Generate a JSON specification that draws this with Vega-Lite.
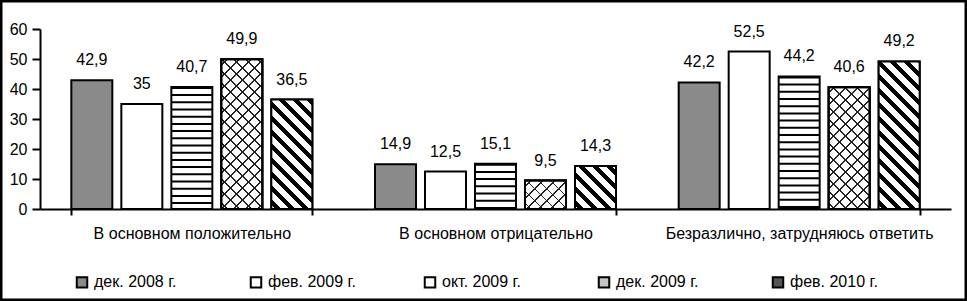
{
  "$schema": "https://vega.github.io/schema/vega-lite/v6.json",
  "width": 967,
  "height": 301,
  "autosize": {"type": "none"},
  "padding": 0,
  "background": "white",
  "config": {
    "view": {"stroke": "black", "strokeWidth": 5},
    "font": "Liberation Sans",
    "locale": {"number": {"decimal": ",", "thousands": " ", "grouping": [3], "currency": ["", ""]}},
    "axis": {"labelFont": "Liberation Sans", "labelColor": "black", "domainColor": "black", "tickColor": "black", "grid": false}
  },
  "data": {
    "values": [
      {"cat": "В основном положительно", "series": "дек. 2008 г.", "value": 42.9},
      {"cat": "В основном положительно", "series": "фев. 2009 г.", "value": 35},
      {"cat": "В основном положительно", "series": "окт. 2009 г.", "value": 40.7},
      {"cat": "В основном положительно", "series": "дек. 2009 г.", "value": 49.9},
      {"cat": "В основном положительно", "series": "фев. 2010 г.", "value": 36.5},
      {"cat": "В основном отрицательно", "series": "дек. 2008 г.", "value": 14.9},
      {"cat": "В основном отрицательно", "series": "фев. 2009 г.", "value": 12.5},
      {"cat": "В основном отрицательно", "series": "окт. 2009 г.", "value": 15.1},
      {"cat": "В основном отрицательно", "series": "дек. 2009 г.", "value": 9.5},
      {"cat": "В основном отрицательно", "series": "фев. 2010 г.", "value": 14.3},
      {"cat": "Безразлично, затрудняюсь ответить", "series": "дек. 2008 г.", "value": 42.2},
      {"cat": "Безразлично, затрудняюсь ответить", "series": "фев. 2009 г.", "value": 52.5},
      {"cat": "Безразлично, затрудняюсь ответить", "series": "окт. 2009 г.", "value": 44.2},
      {"cat": "Безразлично, затрудняюсь ответить", "series": "дек. 2009 г.", "value": 40.6},
      {"cat": "Безразлично, затрудняюсь ответить", "series": "фев. 2010 г.", "value": 49.2}
    ]
  },
  "encoding": {
    "x": {
      "field": "cat", "type": "nominal",
      "sort": ["В основном положительно", "В основном отрицательно", "Безразлично, затрудняюсь ответить"],
      "scale": {"range": [40, 951], "paddingInner": 0.2064, "paddingOuter": 0.1032},
      "axis": {"title": null, "offset": -92, "labelAngle": 0, "labelFontSize": 16, "labelPadding": 10, "tickBand": "extent", "tickSize": 6, "tickWidth": 2, "domainWidth": 2, "labelLimit": 300}
    },
    "xOffset": {
      "field": "series", "type": "nominal",
      "sort": ["дек. 2008 г.", "фев. 2009 г.", "окт. 2009 г.", "дек. 2009 г.", "фев. 2010 г."],
      "scale": {"domain": ["дек. 2008 г.", "фев. 2009 г.", "окт. 2009 г.", "дек. 2009 г.", "фев. 2010 г."], "paddingInner": 0.18, "paddingOuter": 0}
    },
    "y": {
      "field": "value", "type": "quantitative",
      "scale": {"domain": [0, 60], "range": [209, 29], "nice": false},
      "axis": {"title": null, "offset": -40, "values": [0, 10, 20, 30, 40, 50, 60], "labelFontSize": 16, "labelPadding": 5, "tickSize": 8, "tickWidth": 2, "domainWidth": 2}
    }
  },
  "layer": [
    {
      "mark": {"type": "bar", "stroke": "black", "strokeWidth": 2},
      "encoding": {
        "fill": {
          "field": "series", "type": "nominal",
          "sort": ["дек. 2008 г.", "фев. 2009 г.", "окт. 2009 г.", "дек. 2009 г.", "фев. 2010 г."],
          "scale": {"domain": ["дек. 2008 г.", "фев. 2009 г.", "окт. 2009 г.", "дек. 2009 г.", "фев. 2010 г."], "range": ["#8a8a8a", "#ffffff", "#ffffff", "#c4c4c4", "#555555"]},
          "legend": {"title": null, "orient": "none", "legendX": 74, "legendY": 274, "direction": "horizontal", "columns": 5, "symbolType": "square", "symbolSize": 110, "symbolStrokeColor": "black", "symbolStrokeWidth": 2, "labelFontSize": 16, "labelFont": "Liberation Sans", "labelColor": "black", "labelOffset": 4, "columnPadding": 64, "gridAlign": "all", "labelLimit": 200, "padding": 0}
        }
      }
    },
    {
      "transform": [{"filter": "datum.series === 'фев. 2010 г.'"}],
      "mark": {"type": "bar", "stroke": "black", "strokeWidth": 2},
      "encoding": {
        "fill": {
          "condition": [
            {"test": "datum.cat === 'В основном положительно'", "value": {"gradient": "linear", "x1": 0, "y1": 1, "x2": 0.4618, "y2": -0.2335, "stops": [
              {"offset": 0, "color": "#fff"},
              {"offset": 0.02597, "color": "#fff"}, {"offset": 0.02597, "color": "#000"}, {"offset": 0.06494, "color": "#000"}, {"offset": 0.06494, "color": "#fff"},
              {"offset": 0.11688, "color": "#fff"}, {"offset": 0.11688, "color": "#000"}, {"offset": 0.15584, "color": "#000"}, {"offset": 0.15584, "color": "#fff"},
              {"offset": 0.20779, "color": "#fff"}, {"offset": 0.20779, "color": "#000"}, {"offset": 0.24675, "color": "#000"}, {"offset": 0.24675, "color": "#fff"},
              {"offset": 0.29870, "color": "#fff"}, {"offset": 0.29870, "color": "#000"}, {"offset": 0.33766, "color": "#000"}, {"offset": 0.33766, "color": "#fff"},
              {"offset": 0.38961, "color": "#fff"}, {"offset": 0.38961, "color": "#000"}, {"offset": 0.42857, "color": "#000"}, {"offset": 0.42857, "color": "#fff"},
              {"offset": 0.48052, "color": "#fff"}, {"offset": 0.48052, "color": "#000"}, {"offset": 0.51948, "color": "#000"}, {"offset": 0.51948, "color": "#fff"},
              {"offset": 0.57143, "color": "#fff"}, {"offset": 0.57143, "color": "#000"}, {"offset": 0.61039, "color": "#000"}, {"offset": 0.61039, "color": "#fff"},
              {"offset": 0.66234, "color": "#fff"}, {"offset": 0.66234, "color": "#000"}, {"offset": 0.70130, "color": "#000"}, {"offset": 0.70130, "color": "#fff"},
              {"offset": 0.75325, "color": "#fff"}, {"offset": 0.75325, "color": "#000"}, {"offset": 0.79221, "color": "#000"}, {"offset": 0.79221, "color": "#fff"},
              {"offset": 0.84416, "color": "#fff"}, {"offset": 0.84416, "color": "#000"}, {"offset": 0.88312, "color": "#000"}, {"offset": 0.88312, "color": "#fff"},
              {"offset": 0.93506, "color": "#fff"}, {"offset": 0.93506, "color": "#000"}, {"offset": 0.97403, "color": "#000"}, {"offset": 0.97403, "color": "#fff"},
              {"offset": 1, "color": "#fff"}]}},
            {"test": "datum.cat === 'В основном отрицательно'", "value": {"gradient": "linear", "x1": 0, "y1": 1, "x2": 0.9780, "y2": -0.0233, "stops": [
              {"offset": 0, "color": "#fff"},
              {"offset": 0.04762, "color": "#fff"}, {"offset": 0.04762, "color": "#000"}, {"offset": 0.11905, "color": "#000"}, {"offset": 0.11905, "color": "#fff"},
              {"offset": 0.21429, "color": "#fff"}, {"offset": 0.21429, "color": "#000"}, {"offset": 0.28571, "color": "#000"}, {"offset": 0.28571, "color": "#fff"},
              {"offset": 0.38095, "color": "#fff"}, {"offset": 0.38095, "color": "#000"}, {"offset": 0.45238, "color": "#000"}, {"offset": 0.45238, "color": "#fff"},
              {"offset": 0.54762, "color": "#fff"}, {"offset": 0.54762, "color": "#000"}, {"offset": 0.61905, "color": "#000"}, {"offset": 0.61905, "color": "#fff"},
              {"offset": 0.71429, "color": "#fff"}, {"offset": 0.71429, "color": "#000"}, {"offset": 0.78571, "color": "#000"}, {"offset": 0.78571, "color": "#fff"},
              {"offset": 0.88095, "color": "#fff"}, {"offset": 0.88095, "color": "#000"}, {"offset": 0.95238, "color": "#000"}, {"offset": 0.95238, "color": "#fff"},
              {"offset": 1, "color": "#fff"}]}},
            {"test": "datum.cat === 'Безразлично, затрудняюсь ответить'", "value": {"gradient": "linear", "x1": 0, "y1": 1, "x2": 0.3424, "y2": -0.2328, "stops": [
              {"offset": 0, "color": "#fff"},
              {"offset": 0.02041, "color": "#fff"}, {"offset": 0.02041, "color": "#000"}, {"offset": 0.05102, "color": "#000"}, {"offset": 0.05102, "color": "#fff"},
              {"offset": 0.09184, "color": "#fff"}, {"offset": 0.09184, "color": "#000"}, {"offset": 0.12245, "color": "#000"}, {"offset": 0.12245, "color": "#fff"},
              {"offset": 0.16327, "color": "#fff"}, {"offset": 0.16327, "color": "#000"}, {"offset": 0.19388, "color": "#000"}, {"offset": 0.19388, "color": "#fff"},
              {"offset": 0.23469, "color": "#fff"}, {"offset": 0.23469, "color": "#000"}, {"offset": 0.26531, "color": "#000"}, {"offset": 0.26531, "color": "#fff"},
              {"offset": 0.30612, "color": "#fff"}, {"offset": 0.30612, "color": "#000"}, {"offset": 0.33673, "color": "#000"}, {"offset": 0.33673, "color": "#fff"},
              {"offset": 0.37755, "color": "#fff"}, {"offset": 0.37755, "color": "#000"}, {"offset": 0.40816, "color": "#000"}, {"offset": 0.40816, "color": "#fff"},
              {"offset": 0.44898, "color": "#fff"}, {"offset": 0.44898, "color": "#000"}, {"offset": 0.47959, "color": "#000"}, {"offset": 0.47959, "color": "#fff"},
              {"offset": 0.52041, "color": "#fff"}, {"offset": 0.52041, "color": "#000"}, {"offset": 0.55102, "color": "#000"}, {"offset": 0.55102, "color": "#fff"},
              {"offset": 0.59184, "color": "#fff"}, {"offset": 0.59184, "color": "#000"}, {"offset": 0.62245, "color": "#000"}, {"offset": 0.62245, "color": "#fff"},
              {"offset": 0.66327, "color": "#fff"}, {"offset": 0.66327, "color": "#000"}, {"offset": 0.69388, "color": "#000"}, {"offset": 0.69388, "color": "#fff"},
              {"offset": 0.73469, "color": "#fff"}, {"offset": 0.73469, "color": "#000"}, {"offset": 0.76531, "color": "#000"}, {"offset": 0.76531, "color": "#fff"},
              {"offset": 0.80612, "color": "#fff"}, {"offset": 0.80612, "color": "#000"}, {"offset": 0.83673, "color": "#000"}, {"offset": 0.83673, "color": "#fff"},
              {"offset": 0.87755, "color": "#fff"}, {"offset": 0.87755, "color": "#000"}, {"offset": 0.90816, "color": "#000"}, {"offset": 0.90816, "color": "#fff"},
              {"offset": 0.94898, "color": "#fff"}, {"offset": 0.94898, "color": "#000"}, {"offset": 0.97959, "color": "#000"}, {"offset": 0.97959, "color": "#fff"},
              {"offset": 1, "color": "#fff"}]}}
          ],
          "value": "white"
        }
      }
    },
    {
      "transform": [{"filter": "datum.series === 'дек. 2009 г.'"}],
      "mark": {"type": "bar", "stroke": "black", "strokeWidth": 2},
      "encoding": {
        "fill": {
          "condition": [
            {"test": "datum.cat === 'В основном положительно'", "value": {"gradient": "linear", "x1": 0, "y1": 1, "x2": 0.3268, "y2": -0.1931, "stops": [
              {"offset": 0, "color": "#fff"},
              {"offset": 0.02656, "color": "#fff"}, {"offset": 0.02656, "color": "#222"}, {"offset": 0.03594, "color": "#222"}, {"offset": 0.03594, "color": "#fff"},
              {"offset": 0.08906, "color": "#fff"}, {"offset": 0.08906, "color": "#222"}, {"offset": 0.09844, "color": "#222"}, {"offset": 0.09844, "color": "#fff"},
              {"offset": 0.15156, "color": "#fff"}, {"offset": 0.15156, "color": "#222"}, {"offset": 0.16094, "color": "#222"}, {"offset": 0.16094, "color": "#fff"},
              {"offset": 0.21406, "color": "#fff"}, {"offset": 0.21406, "color": "#222"}, {"offset": 0.22344, "color": "#222"}, {"offset": 0.22344, "color": "#fff"},
              {"offset": 0.27656, "color": "#fff"}, {"offset": 0.27656, "color": "#222"}, {"offset": 0.28594, "color": "#222"}, {"offset": 0.28594, "color": "#fff"},
              {"offset": 0.33906, "color": "#fff"}, {"offset": 0.33906, "color": "#222"}, {"offset": 0.34844, "color": "#222"}, {"offset": 0.34844, "color": "#fff"},
              {"offset": 0.40156, "color": "#fff"}, {"offset": 0.40156, "color": "#222"}, {"offset": 0.41094, "color": "#222"}, {"offset": 0.41094, "color": "#fff"},
              {"offset": 0.46406, "color": "#fff"}, {"offset": 0.46406, "color": "#222"}, {"offset": 0.47344, "color": "#222"}, {"offset": 0.47344, "color": "#fff"},
              {"offset": 0.52656, "color": "#fff"}, {"offset": 0.52656, "color": "#222"}, {"offset": 0.53594, "color": "#222"}, {"offset": 0.53594, "color": "#fff"},
              {"offset": 0.58906, "color": "#fff"}, {"offset": 0.58906, "color": "#222"}, {"offset": 0.59844, "color": "#222"}, {"offset": 0.59844, "color": "#fff"},
              {"offset": 0.65156, "color": "#fff"}, {"offset": 0.65156, "color": "#222"}, {"offset": 0.66094, "color": "#222"}, {"offset": 0.66094, "color": "#fff"},
              {"offset": 0.71406, "color": "#fff"}, {"offset": 0.71406, "color": "#222"}, {"offset": 0.72344, "color": "#222"}, {"offset": 0.72344, "color": "#fff"},
              {"offset": 0.77656, "color": "#fff"}, {"offset": 0.77656, "color": "#222"}, {"offset": 0.78594, "color": "#222"}, {"offset": 0.78594, "color": "#fff"},
              {"offset": 0.83906, "color": "#fff"}, {"offset": 0.83906, "color": "#222"}, {"offset": 0.84844, "color": "#222"}, {"offset": 0.84844, "color": "#fff"},
              {"offset": 0.90156, "color": "#fff"}, {"offset": 0.90156, "color": "#222"}, {"offset": 0.91094, "color": "#222"}, {"offset": 0.91094, "color": "#fff"},
              {"offset": 0.96406, "color": "#fff"}, {"offset": 0.96406, "color": "#222"}, {"offset": 0.97344, "color": "#222"}, {"offset": 0.97344, "color": "#fff"},
              {"offset": 1, "color": "#fff"}]}},
            {"test": "datum.cat === 'В основном отрицательно'", "value": {"gradient": "linear", "x1": 0, "y1": 1, "x2": 1.1840, "y2": 0.1770, "stops": [
              {"offset": 0, "color": "#fff"},
              {"offset": 0.07083, "color": "#fff"}, {"offset": 0.07083, "color": "#222"}, {"offset": 0.09583, "color": "#222"}, {"offset": 0.09583, "color": "#fff"},
              {"offset": 0.23750, "color": "#fff"}, {"offset": 0.23750, "color": "#222"}, {"offset": 0.26250, "color": "#222"}, {"offset": 0.26250, "color": "#fff"},
              {"offset": 0.40417, "color": "#fff"}, {"offset": 0.40417, "color": "#222"}, {"offset": 0.42917, "color": "#222"}, {"offset": 0.42917, "color": "#fff"},
              {"offset": 0.57083, "color": "#fff"}, {"offset": 0.57083, "color": "#222"}, {"offset": 0.59583, "color": "#222"}, {"offset": 0.59583, "color": "#fff"},
              {"offset": 0.73750, "color": "#fff"}, {"offset": 0.73750, "color": "#222"}, {"offset": 0.76250, "color": "#222"}, {"offset": 0.76250, "color": "#fff"},
              {"offset": 0.90417, "color": "#fff"}, {"offset": 0.90417, "color": "#222"}, {"offset": 0.92917, "color": "#222"}, {"offset": 0.92917, "color": "#fff"},
              {"offset": 1, "color": "#fff"}]}},
            {"test": "datum.cat === 'Безразлично, затрудняюсь ответить'", "value": {"gradient": "linear", "x1": 0, "y1": 1, "x2": 0.4170, "y2": -0.2389, "stops": [
              {"offset": 0, "color": "#fff"},
              {"offset": 0.03036, "color": "#fff"}, {"offset": 0.03036, "color": "#222"}, {"offset": 0.04107, "color": "#222"}, {"offset": 0.04107, "color": "#fff"},
              {"offset": 0.10179, "color": "#fff"}, {"offset": 0.10179, "color": "#222"}, {"offset": 0.11250, "color": "#222"}, {"offset": 0.11250, "color": "#fff"},
              {"offset": 0.17321, "color": "#fff"}, {"offset": 0.17321, "color": "#222"}, {"offset": 0.18393, "color": "#222"}, {"offset": 0.18393, "color": "#fff"},
              {"offset": 0.24464, "color": "#fff"}, {"offset": 0.24464, "color": "#222"}, {"offset": 0.25536, "color": "#222"}, {"offset": 0.25536, "color": "#fff"},
              {"offset": 0.31607, "color": "#fff"}, {"offset": 0.31607, "color": "#222"}, {"offset": 0.32679, "color": "#222"}, {"offset": 0.32679, "color": "#fff"},
              {"offset": 0.38750, "color": "#fff"}, {"offset": 0.38750, "color": "#222"}, {"offset": 0.39821, "color": "#222"}, {"offset": 0.39821, "color": "#fff"},
              {"offset": 0.45893, "color": "#fff"}, {"offset": 0.45893, "color": "#222"}, {"offset": 0.46964, "color": "#222"}, {"offset": 0.46964, "color": "#fff"},
              {"offset": 0.53036, "color": "#fff"}, {"offset": 0.53036, "color": "#222"}, {"offset": 0.54107, "color": "#222"}, {"offset": 0.54107, "color": "#fff"},
              {"offset": 0.60179, "color": "#fff"}, {"offset": 0.60179, "color": "#222"}, {"offset": 0.61250, "color": "#222"}, {"offset": 0.61250, "color": "#fff"},
              {"offset": 0.67321, "color": "#fff"}, {"offset": 0.67321, "color": "#222"}, {"offset": 0.68393, "color": "#222"}, {"offset": 0.68393, "color": "#fff"},
              {"offset": 0.74464, "color": "#fff"}, {"offset": 0.74464, "color": "#222"}, {"offset": 0.75536, "color": "#222"}, {"offset": 0.75536, "color": "#fff"},
              {"offset": 0.81607, "color": "#fff"}, {"offset": 0.81607, "color": "#222"}, {"offset": 0.82679, "color": "#222"}, {"offset": 0.82679, "color": "#fff"},
              {"offset": 0.88750, "color": "#fff"}, {"offset": 0.88750, "color": "#222"}, {"offset": 0.89821, "color": "#222"}, {"offset": 0.89821, "color": "#fff"},
              {"offset": 0.95893, "color": "#fff"}, {"offset": 0.95893, "color": "#222"}, {"offset": 0.96964, "color": "#222"}, {"offset": 0.96964, "color": "#fff"},
              {"offset": 1, "color": "#fff"}]}}
          ],
          "value": "white"
        }
      }
    },
    {
      "transform": [{"filter": "datum.series === 'дек. 2009 г.'"}],
      "mark": {"type": "bar", "stroke": "black", "strokeWidth": 2},
      "encoding": {
        "fill": {
          "condition": [
            {"test": "datum.cat === 'В основном положительно'", "value": {"gradient": "linear", "x1": 0, "y1": 0, "x2": 0.3268, "y2": 1.1931, "stops": [
              {"offset": 0, "color": "rgba(0,0,0,0)"},
              {"offset": 0.02656, "color": "rgba(0,0,0,0)"}, {"offset": 0.02656, "color": "#222"}, {"offset": 0.03594, "color": "#222"}, {"offset": 0.03594, "color": "rgba(0,0,0,0)"},
              {"offset": 0.08906, "color": "rgba(0,0,0,0)"}, {"offset": 0.08906, "color": "#222"}, {"offset": 0.09844, "color": "#222"}, {"offset": 0.09844, "color": "rgba(0,0,0,0)"},
              {"offset": 0.15156, "color": "rgba(0,0,0,0)"}, {"offset": 0.15156, "color": "#222"}, {"offset": 0.16094, "color": "#222"}, {"offset": 0.16094, "color": "rgba(0,0,0,0)"},
              {"offset": 0.21406, "color": "rgba(0,0,0,0)"}, {"offset": 0.21406, "color": "#222"}, {"offset": 0.22344, "color": "#222"}, {"offset": 0.22344, "color": "rgba(0,0,0,0)"},
              {"offset": 0.27656, "color": "rgba(0,0,0,0)"}, {"offset": 0.27656, "color": "#222"}, {"offset": 0.28594, "color": "#222"}, {"offset": 0.28594, "color": "rgba(0,0,0,0)"},
              {"offset": 0.33906, "color": "rgba(0,0,0,0)"}, {"offset": 0.33906, "color": "#222"}, {"offset": 0.34844, "color": "#222"}, {"offset": 0.34844, "color": "rgba(0,0,0,0)"},
              {"offset": 0.40156, "color": "rgba(0,0,0,0)"}, {"offset": 0.40156, "color": "#222"}, {"offset": 0.41094, "color": "#222"}, {"offset": 0.41094, "color": "rgba(0,0,0,0)"},
              {"offset": 0.46406, "color": "rgba(0,0,0,0)"}, {"offset": 0.46406, "color": "#222"}, {"offset": 0.47344, "color": "#222"}, {"offset": 0.47344, "color": "rgba(0,0,0,0)"},
              {"offset": 0.52656, "color": "rgba(0,0,0,0)"}, {"offset": 0.52656, "color": "#222"}, {"offset": 0.53594, "color": "#222"}, {"offset": 0.53594, "color": "rgba(0,0,0,0)"},
              {"offset": 0.58906, "color": "rgba(0,0,0,0)"}, {"offset": 0.58906, "color": "#222"}, {"offset": 0.59844, "color": "#222"}, {"offset": 0.59844, "color": "rgba(0,0,0,0)"},
              {"offset": 0.65156, "color": "rgba(0,0,0,0)"}, {"offset": 0.65156, "color": "#222"}, {"offset": 0.66094, "color": "#222"}, {"offset": 0.66094, "color": "rgba(0,0,0,0)"},
              {"offset": 0.71406, "color": "rgba(0,0,0,0)"}, {"offset": 0.71406, "color": "#222"}, {"offset": 0.72344, "color": "#222"}, {"offset": 0.72344, "color": "rgba(0,0,0,0)"},
              {"offset": 0.77656, "color": "rgba(0,0,0,0)"}, {"offset": 0.77656, "color": "#222"}, {"offset": 0.78594, "color": "#222"}, {"offset": 0.78594, "color": "rgba(0,0,0,0)"},
              {"offset": 0.83906, "color": "rgba(0,0,0,0)"}, {"offset": 0.83906, "color": "#222"}, {"offset": 0.84844, "color": "#222"}, {"offset": 0.84844, "color": "rgba(0,0,0,0)"},
              {"offset": 0.90156, "color": "rgba(0,0,0,0)"}, {"offset": 0.90156, "color": "#222"}, {"offset": 0.91094, "color": "#222"}, {"offset": 0.91094, "color": "rgba(0,0,0,0)"},
              {"offset": 0.96406, "color": "rgba(0,0,0,0)"}, {"offset": 0.96406, "color": "#222"}, {"offset": 0.97344, "color": "#222"}, {"offset": 0.97344, "color": "rgba(0,0,0,0)"},
              {"offset": 1, "color": "rgba(0,0,0,0)"}]}},
            {"test": "datum.cat === 'В основном отрицательно'", "value": {"gradient": "linear", "x1": 0, "y1": 0, "x2": 1.1840, "y2": 0.8230, "stops": [
              {"offset": 0, "color": "rgba(0,0,0,0)"},
              {"offset": 0.07083, "color": "rgba(0,0,0,0)"}, {"offset": 0.07083, "color": "#222"}, {"offset": 0.09583, "color": "#222"}, {"offset": 0.09583, "color": "rgba(0,0,0,0)"},
              {"offset": 0.23750, "color": "rgba(0,0,0,0)"}, {"offset": 0.23750, "color": "#222"}, {"offset": 0.26250, "color": "#222"}, {"offset": 0.26250, "color": "rgba(0,0,0,0)"},
              {"offset": 0.40417, "color": "rgba(0,0,0,0)"}, {"offset": 0.40417, "color": "#222"}, {"offset": 0.42917, "color": "#222"}, {"offset": 0.42917, "color": "rgba(0,0,0,0)"},
              {"offset": 0.57083, "color": "rgba(0,0,0,0)"}, {"offset": 0.57083, "color": "#222"}, {"offset": 0.59583, "color": "#222"}, {"offset": 0.59583, "color": "rgba(0,0,0,0)"},
              {"offset": 0.73750, "color": "rgba(0,0,0,0)"}, {"offset": 0.73750, "color": "#222"}, {"offset": 0.76250, "color": "#222"}, {"offset": 0.76250, "color": "rgba(0,0,0,0)"},
              {"offset": 0.90417, "color": "rgba(0,0,0,0)"}, {"offset": 0.90417, "color": "#222"}, {"offset": 0.92917, "color": "#222"}, {"offset": 0.92917, "color": "rgba(0,0,0,0)"},
              {"offset": 1, "color": "rgba(0,0,0,0)"}]}},
            {"test": "datum.cat === 'Безразлично, затрудняюсь ответить'", "value": {"gradient": "linear", "x1": 0, "y1": 0, "x2": 0.4170, "y2": 1.2389, "stops": [
              {"offset": 0, "color": "rgba(0,0,0,0)"},
              {"offset": 0.03036, "color": "rgba(0,0,0,0)"}, {"offset": 0.03036, "color": "#222"}, {"offset": 0.04107, "color": "#222"}, {"offset": 0.04107, "color": "rgba(0,0,0,0)"},
              {"offset": 0.10179, "color": "rgba(0,0,0,0)"}, {"offset": 0.10179, "color": "#222"}, {"offset": 0.11250, "color": "#222"}, {"offset": 0.11250, "color": "rgba(0,0,0,0)"},
              {"offset": 0.17321, "color": "rgba(0,0,0,0)"}, {"offset": 0.17321, "color": "#222"}, {"offset": 0.18393, "color": "#222"}, {"offset": 0.18393, "color": "rgba(0,0,0,0)"},
              {"offset": 0.24464, "color": "rgba(0,0,0,0)"}, {"offset": 0.24464, "color": "#222"}, {"offset": 0.25536, "color": "#222"}, {"offset": 0.25536, "color": "rgba(0,0,0,0)"},
              {"offset": 0.31607, "color": "rgba(0,0,0,0)"}, {"offset": 0.31607, "color": "#222"}, {"offset": 0.32679, "color": "#222"}, {"offset": 0.32679, "color": "rgba(0,0,0,0)"},
              {"offset": 0.38750, "color": "rgba(0,0,0,0)"}, {"offset": 0.38750, "color": "#222"}, {"offset": 0.39821, "color": "#222"}, {"offset": 0.39821, "color": "rgba(0,0,0,0)"},
              {"offset": 0.45893, "color": "rgba(0,0,0,0)"}, {"offset": 0.45893, "color": "#222"}, {"offset": 0.46964, "color": "#222"}, {"offset": 0.46964, "color": "rgba(0,0,0,0)"},
              {"offset": 0.53036, "color": "rgba(0,0,0,0)"}, {"offset": 0.53036, "color": "#222"}, {"offset": 0.54107, "color": "#222"}, {"offset": 0.54107, "color": "rgba(0,0,0,0)"},
              {"offset": 0.60179, "color": "rgba(0,0,0,0)"}, {"offset": 0.60179, "color": "#222"}, {"offset": 0.61250, "color": "#222"}, {"offset": 0.61250, "color": "rgba(0,0,0,0)"},
              {"offset": 0.67321, "color": "rgba(0,0,0,0)"}, {"offset": 0.67321, "color": "#222"}, {"offset": 0.68393, "color": "#222"}, {"offset": 0.68393, "color": "rgba(0,0,0,0)"},
              {"offset": 0.74464, "color": "rgba(0,0,0,0)"}, {"offset": 0.74464, "color": "#222"}, {"offset": 0.75536, "color": "#222"}, {"offset": 0.75536, "color": "rgba(0,0,0,0)"},
              {"offset": 0.81607, "color": "rgba(0,0,0,0)"}, {"offset": 0.81607, "color": "#222"}, {"offset": 0.82679, "color": "#222"}, {"offset": 0.82679, "color": "rgba(0,0,0,0)"},
              {"offset": 0.88750, "color": "rgba(0,0,0,0)"}, {"offset": 0.88750, "color": "#222"}, {"offset": 0.89821, "color": "#222"}, {"offset": 0.89821, "color": "rgba(0,0,0,0)"},
              {"offset": 0.95893, "color": "rgba(0,0,0,0)"}, {"offset": 0.95893, "color": "#222"}, {"offset": 0.96964, "color": "#222"}, {"offset": 0.96964, "color": "rgba(0,0,0,0)"},
              {"offset": 1, "color": "rgba(0,0,0,0)"}]}}
          ],
          "value": "rgba(0,0,0,0)"
        }
      }
    },
    {
      "transform": [{"filter": "datum.series === 'окт. 2009 г.'"}],
      "mark": {"type": "rule", "color": "black", "strokeWidth": 40, "strokeDash": [2, 5.2], "strokeCap": "butt"},
      "encoding": {
        "y2": {"datum": 0}
      }
    },
    {
      "mark": {"type": "text", "dy": -20, "fontSize": 16, "baseline": "middle", "color": "black", "font": "Liberation Sans"},
      "encoding": {
        "text": {"field": "value", "type": "quantitative", "format": ".1~f"}
      }
    }
  ]
}
